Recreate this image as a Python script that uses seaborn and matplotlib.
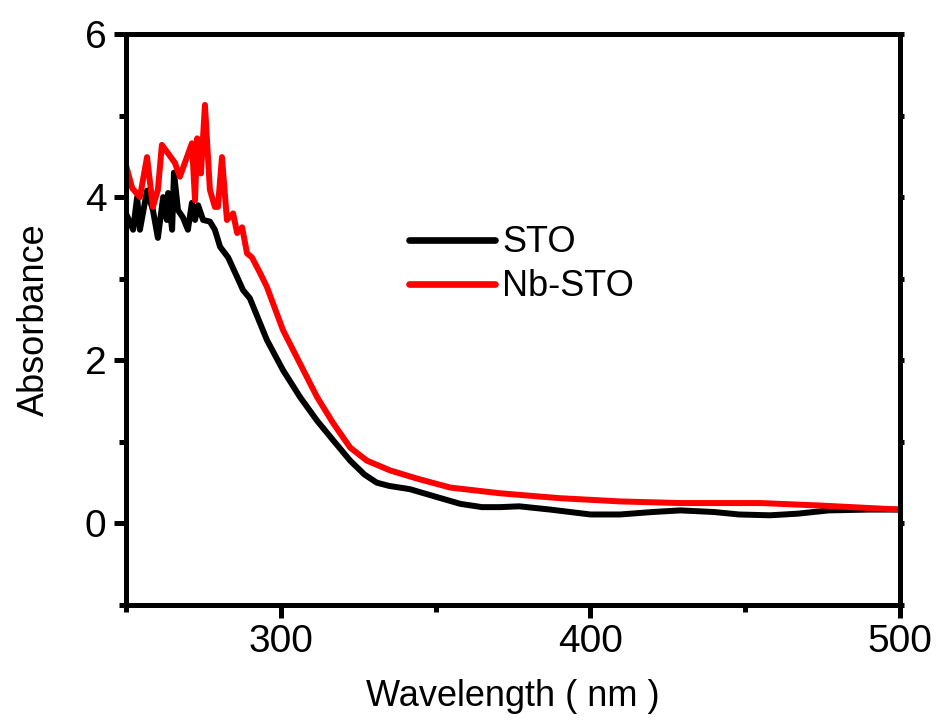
import numpy as np
import pandas as pd
import seaborn as sns
import matplotlib.pyplot as plt
from matplotlib.ticker import MultipleLocator

# STO absorbance spectrum
wl_sto = [250, 252.3, 253.6, 254.5, 256.8, 258.7, 260.3, 262, 263.2, 263.6,
          264.9, 265.5, 266.8, 268.4, 270, 271.3, 272.3, 273.3, 274.9, 277.1,
          278.7, 280.4, 283, 285.9, 287.8, 290, 295.5, 300.7, 306.2, 311.7,
          316.9, 322.4, 327, 331, 335, 341.7, 348, 358, 365, 370.8,
          377, 387, 400, 409.6, 420, 429, 440, 448, 458, 467,
          477, 490, 500]
abs_sto = [3.8, 3.6, 4.0, 3.6, 4.08, 3.84, 3.5, 4.0, 3.72, 4.05,
           3.6, 4.3, 3.84, 3.75, 3.6, 3.93, 3.72, 3.9, 3.72, 3.7,
           3.6, 3.39, 3.26, 3.02, 2.86, 2.76, 2.25, 1.88, 1.55, 1.26,
           1.02, 0.77, 0.6, 0.5, 0.46, 0.42, 0.35, 0.24, 0.2, 0.2,
           0.21, 0.17, 0.11, 0.11, 0.14, 0.16, 0.14, 0.11, 0.1, 0.12,
           0.16, 0.17, 0.17]

# Nb-STO absorbance spectrum
wl_nb = [250, 252, 254.5, 256.8, 258.7, 260.3, 261.6, 265.8, 267.4, 271.3,
         272.3, 273, 274.2, 275.5, 277.1, 278.7, 279.7, 281, 282.6, 284.6,
         285.9, 287.5, 289.1, 290.7, 293.3, 295.5, 300.7, 306.2, 311.7, 316.9,
         322.4, 327.8, 335.3, 344, 354.7, 370.8, 390, 409.6, 429, 455,
         474, 500]
abs_nb = [4.39, 4.11, 4.0, 4.49, 3.88, 4.09, 4.64, 4.42, 4.25, 4.66,
          3.96, 4.72, 4.29, 5.13, 4.09, 3.88, 3.88, 4.49, 3.72, 3.8,
          3.56, 3.63, 3.31, 3.26, 3.07, 2.9, 2.37, 1.96, 1.55, 1.23,
          0.93, 0.77, 0.65, 0.55, 0.44, 0.37, 0.31, 0.27, 0.25, 0.25,
          0.22, 0.17]

df = pd.concat([
    pd.DataFrame({"Wavelength": wl_sto, "Absorbance": abs_sto, "Sample": "STO"}),
    pd.DataFrame({"Wavelength": wl_nb, "Absorbance": abs_nb, "Sample": "Nb-STO"}),
])

sns.set_style("ticks")
plt.rcParams['font.family'] = ['Liberation Sans', 'DejaVu Sans']
plt.rcParams['text.color'] = 'black'
plt.rcParams['axes.labelcolor'] = 'black'
plt.rcParams['xtick.color'] = 'black'
plt.rcParams['ytick.color'] = 'black'

fig = plt.figure(figsize=(9.36, 7.22), dpi=100)
ax = fig.add_axes([0.1346, 0.162, 0.827, 0.791])

sns.lineplot(data=df, x="Wavelength", y="Absorbance", hue="Sample",
             palette={"STO": "black", "Nb-STO": "#ff0000"},
             linewidth=4.3, sort=False, estimator=None, ax=ax)

ax.set_xlim(250, 500)
ax.set_ylim(-1, 6)
ax.xaxis.set_major_locator(MultipleLocator(100))
ax.xaxis.set_minor_locator(MultipleLocator(50))
ax.yaxis.set_major_locator(MultipleLocator(2))
ax.yaxis.set_minor_locator(MultipleLocator(1))
ax.set_xticks([300, 400, 500])

for s in ax.spines.values():
    s.set_linewidth(3.6)
    s.set_color("black")

ax.tick_params(axis="both", which="major", direction="out", length=9, width=3.6,
               labelsize=28, pad=5, colors="black")
ax.tick_params(axis="both", which="minor", direction="out", length=5, width=3.6)

# small stubs on the right spine
ax2 = ax.secondary_yaxis("right")
ax2.yaxis.set_major_locator(MultipleLocator(1))
ax2.tick_params(axis="y", direction="out", length=3, width=3.6, labelright=False)
ax2.spines["right"].set_linewidth(3.6)

ax.set_xlabel("Wavelength ( nm )", fontsize=26, labelpad=13)
ax.set_ylabel("Absorbance", fontsize=26, labelpad=24)

leg = ax.legend(loc="upper left", bbox_to_anchor=(0.365, 0.665), frameon=False,
                fontsize=26, handlelength=2.4, handletextpad=0.2,
                labelspacing=0.25, borderpad=0, borderaxespad=0)
for line in leg.get_lines():
    line.set_linewidth(4.8)

fig.savefig("out.png", dpi=100)
